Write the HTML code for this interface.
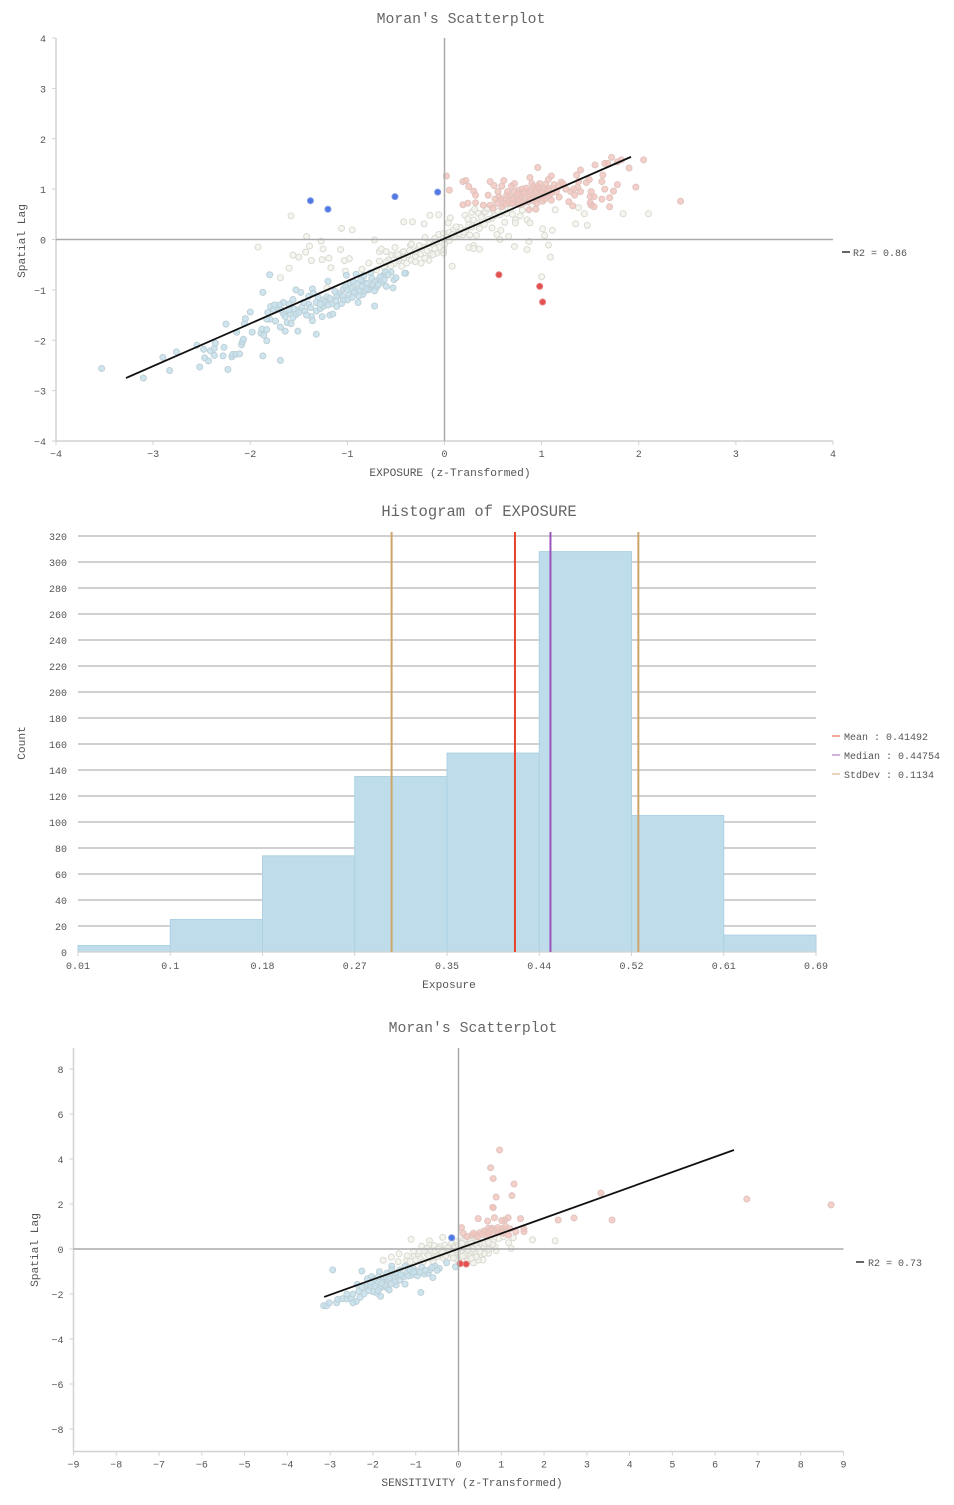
<!DOCTYPE html>
<html lang="en">
<head>
<meta charset="utf-8">
<title>Moran's Scatterplots and Histogram</title>
<style>
html,body{margin:0;padding:0;background:#fff;width:954px;height:1505px;overflow:hidden}
svg{display:block;filter:blur(0.3px)}
text{font-family:"Liberation Mono","Noto Serif CJK SC",monospace;fill:#555}
.title{font-size:14.8px;text-anchor:middle;fill:#666}
.axis-title{font-size:11.2px;text-anchor:middle;fill:#555}
.tick{font-size:10px;fill:#555}
.legend{font-size:10px;fill:#555}
</style>
</head>
<body>
<svg id="root" xmlns="http://www.w3.org/2000/svg" width="954" height="1505" viewBox="0 0 954 1505">
  <g id="chart1">
    <text class="title" x="461" y="23">Moran's Scatterplot</text>
    <text class="axis-title" x="450" y="476">EXPOSURE (z-Transformed)</text>
    <text class="axis-title" transform="translate(25,241) rotate(-90)">Spatial Lag</text>
    <line x1="842" x2="850" y1="252" y2="252" stroke="#333" stroke-width="1.5"/>
    <text class="legend" x="853" y="256">R2 = 0.86</text>
  </g>
  <g id="chart2">
    <text class="title" style="font-size:15.5px" x="479" y="516">Histogram of EXPOSURE</text>
    <text class="axis-title" x="449" y="988">Exposure</text>
    <text class="axis-title" transform="translate(25,743) rotate(-90)">Count</text>
    <line x1="832" x2="840" y1="736" y2="736" stroke="#ee8a78" stroke-width="1.5"/>
    <text class="legend" x="844" y="740">Mean : 0.41492</text>
    <line x1="832" x2="840" y1="755" y2="755" stroke="#c29ad2" stroke-width="1.5"/>
    <text class="legend" x="844" y="759">Median : 0.44754</text>
    <line x1="832" x2="840" y1="774" y2="774" stroke="#e2c6a2" stroke-width="1.5"/>
    <text class="legend" x="844" y="778">StdDev : 0.1134</text>
  </g>
  <g id="chart3">
    <text class="title" x="473" y="1032">Moran's Scatterplot</text>
    <text class="axis-title" x="472" y="1486">SENSITIVITY (z-Transformed)</text>
    <text class="axis-title" transform="translate(38,1250) rotate(-90)">Spatial Lag</text>
    <line x1="856" x2="864" y1="1262" y2="1262" stroke="#333" stroke-width="1.5"/>
    <text class="legend" x="868" y="1266">R2 = 0.73</text>
  </g>
</svg>
<script>
/* ---------- Chart 1: EXPOSURE Moran's scatterplot ---------- */
var c1Ticks = [-4,-3,-2,-1,0,1,2,3,4];
var c1NotSig = [[-1.58,0.47],[-1.92,-0.15],[-1.42,0.06],[-1.27,-0.03],[-1.39,-0.13],[-1.25,-0.19],[-1.43,-0.25],[-1.50,-0.35],[-1.56,-0.31],[-1.37,-0.42],[-1.26,-0.40],[-1.19,-0.37],[-1.17,-0.56],[-1.60,-0.57],[-1.69,-0.76],[-1.06,0.22],[-0.95,0.19],[-0.72,-0.01],[-1.07,-0.20],[-1.03,-0.42],[-0.98,-0.38],[-1.02,-0.63],[-0.85,-0.59],[-0.78,-0.47],[-0.67,-0.24],[-0.65,-0.19],[-0.60,-0.24],[-0.51,-0.16],[-0.67,-0.43],[-0.58,-0.41],[-0.54,-0.31],[-0.50,-0.31],[-0.42,0.35],[-0.43,-0.25],[-0.47,-0.42],[-0.35,-0.11],[-1.21,-0.96],[-0.33,0.35],[-0.21,0.31],[-0.15,0.48],[-0.06,0.49],[0.06,0.43],[0.04,0.33],[0.21,0.48],[0.28,0.54],[0.31,0.60],[0.40,0.52],[0.42,0.55],[0.30,0.39],[0.25,0.29],[0.16,0.24],[0.09,0.19],[0.05,0.14],[-0.06,0.10],[-0.20,0.04],[-0.34,-0.09],[-0.01,0.12],[-0.01,0.02],[0.13,0.06],[0.19,0.09],[0.26,0.09],[0.33,0.08],[0.36,0.22],[0.41,0.30],[0.49,0.42],[0.57,0.49],[0.62,0.34],[0.73,0.39],[0.73,0.33],[0.85,0.39],[0.88,0.33],[0.78,0.47],[0.90,0.66],[1.14,0.59],[1.38,0.63],[1.44,0.51],[1.35,0.31],[1.47,0.28],[1.84,0.51],[2.10,0.51],[1.01,0.21],[1.11,0.18],[1.03,0.08],[0.87,-0.04],[1.07,-0.11],[0.72,-0.14],[0.85,-0.20],[1.09,-0.35],[1.00,-0.74],[0.66,0.06],[0.57,0.00],[0.49,0.23],[0.58,0.18],[0.54,0.10],[0.25,-0.16],[0.30,-0.12],[0.30,-0.18],[0.36,-0.19],[0.08,-0.53],[-0.01,-0.27],[-0.01,-0.20],[-0.08,-0.27],[-0.15,-0.27],[-0.25,-0.29],[-0.34,-0.41],[-0.24,-0.47],[-0.16,-0.41],[-0.20,-0.37],[-0.30,-0.44],[-0.42,-0.24],[-0.39,-0.47],[-0.44,-0.53],[0.10,0.05],[0.15,0.12],[0.22,0.18],[0.28,0.25],[0.34,0.32],[0.45,0.40],[0.52,0.48],[0.60,0.58],[-0.28,-0.20],[-0.22,-0.15],[-0.12,-0.10],[-0.08,-0.05],[-0.18,-0.22],[-0.30,-0.33],[-0.12,-0.30],[-0.05,-0.15],[0.05,-0.02],[0.68,0.60],[0.50,0.58],[-0.52,-0.48],[-0.46,-0.38],[-0.38,-0.30],[-0.60,-0.45],[0.35,0.52],[0.44,0.62],[0.38,0.45],[0.24,0.41],[0.55,0.55],[0.64,0.52],[0.70,0.50],[0.80,0.58],[0.20,0.15],[0.02,0.05],[-0.10,0.02],[-0.16,-0.08],[-0.26,-0.12],[-0.36,-0.22],[-0.30,-0.24],[-0.42,-0.36],[-0.48,-0.30],[-0.55,-0.52],[-0.62,-0.56],[-0.70,-0.60],[-0.10,-0.18],[0.00,-0.10],[0.12,0.25],[0.08,0.10]];
var c1LowLow = [[-3.53,-2.56],[-3.10,-2.75],[-2.90,-2.34],[-2.83,-2.60],[-2.76,-2.23],[-2.55,-2.10],[-2.52,-2.53],[-2.48,-2.18],[-2.47,-2.35],[-2.43,-2.41],[-2.41,-2.21],[-2.37,-2.16],[-2.36,-2.06],[-2.37,-2.30],[-2.28,-2.31],[-2.27,-2.14],[-2.23,-2.58],[-2.25,-1.68],[-2.19,-2.33],[-2.18,-2.28],[-2.15,-2.28],[-2.11,-2.27],[-2.14,-1.84],[-2.09,-2.09],[-2.08,-2.03],[-2.07,-1.98],[-2.06,-1.67],[-2.05,-1.57],[-2.00,-1.44],[-1.98,-1.84],[-1.89,-1.86],[-1.88,-1.78],[-1.83,-1.79],[-1.86,-1.90],[-1.83,-2.01],[-1.87,-2.31],[-1.69,-2.40],[-1.69,-1.74],[-1.64,-1.82],[-1.51,-1.82],[-1.32,-1.88],[-1.74,-1.62],[-1.80,-1.58],[-1.83,-1.58],[-1.62,-1.65],[-1.58,-1.67],[-1.87,-1.05],[-1.80,-0.70],[-1.79,-1.33],[-1.76,-1.39],[-1.72,-1.35],[-1.66,-1.25],[-1.66,-1.47],[-1.60,-1.28],[-1.56,-1.19],[-1.53,-1.00],[-1.48,-1.05],[-1.64,-1.53],[-1.59,-1.47],[-1.53,-1.49],[-1.51,-1.40],[-1.56,-1.55],[-1.40,-1.28],[-1.37,-1.53],[-1.36,-1.61],[-1.26,-1.53],[-1.32,-1.42],[-1.28,-1.37],[-1.32,-1.25],[-1.18,-1.50],[-1.15,-1.48],[-1.11,-1.33],[-1.06,-1.27],[-1.00,-1.20],[-0.89,-1.25],[-0.72,-1.32],[-1.36,-0.98],[-1.35,-1.07],[-1.20,-0.83],[-1.21,-1.14],[-1.16,-1.27],[-1.09,-1.11],[-1.04,-0.98],[-1.01,-0.71],[-0.97,-0.87],[-0.92,-1.00],[-0.91,-0.69],[-0.84,-1.09],[-0.84,-0.84],[-0.77,-0.94],[-0.68,-0.80],[-0.63,-0.71],[-0.60,-0.93],[-0.53,-0.96],[-0.52,-0.80],[-0.50,-0.76],[-0.40,-0.67],[-0.55,-0.65],[-0.41,-0.67],[-1.08,-1.07],[-1.02,-0.94],[-0.96,-0.97],[-0.90,-0.87],[-0.85,-0.94],[-0.80,-0.87],[-0.75,-0.77],[-0.72,-0.84],[-0.66,-0.74],[-0.61,-0.64],[-0.94,-0.84],[-1.04,-1.19],[-1.11,-1.13],[-1.18,-1.17],[-1.25,-1.20],[-1.40,-1.13],[-1.13,-1.03],[-1.00,-1.00],[-0.98,-1.10],[-0.93,-1.05],[-0.88,-1.02],[-0.82,-1.02],[-0.78,-1.00],[-0.74,-0.90],[-0.70,-0.95],[-0.65,-0.85],[-0.62,-0.80],[-0.58,-0.70],[-0.86,-0.80],[-0.83,-0.72],[-0.76,-0.66],[-1.25,-1.33],[-1.30,-1.15],[-1.23,-1.25],[-1.47,-1.35],[-1.44,-1.42],[-1.55,-1.38],[-1.50,-1.45],[-1.70,-1.30],[-1.75,-1.30],[-1.05,-1.12],[-0.95,-1.15],[-0.88,-1.12],[-0.80,-0.98],[-0.72,-1.02],[-0.68,-0.90],[-1.12,-1.22],[-1.20,-1.30],[-1.28,-1.28],[-1.38,-1.35],[-1.45,-1.25],[-1.42,-1.50],[-1.60,-1.40],[-1.68,-1.40],[-1.82,-1.45]];
var c1HighHigh = [[0.02,1.26],[0.05,0.98],[0.19,1.15],[0.22,1.17],[0.25,1.05],[0.30,0.96],[0.32,0.88],[0.19,0.69],[0.24,0.72],[0.32,0.73],[0.40,0.68],[0.45,0.88],[0.47,1.15],[0.51,1.07],[0.59,1.06],[0.61,1.17],[0.55,0.95],[0.56,0.85],[0.47,0.68],[0.50,0.62],[0.54,0.72],[0.59,0.65],[0.69,1.06],[0.72,1.11],[0.67,0.86],[0.68,0.72],[0.73,0.84],[0.76,0.98],[0.79,0.92],[0.83,0.82],[0.74,0.72],[0.79,0.78],[0.88,1.23],[0.96,1.43],[0.90,1.11],[1.07,1.19],[1.10,1.26],[0.88,0.98],[0.93,1.00],[0.98,1.11],[1.02,1.02],[1.07,1.02],[1.13,1.09],[1.20,1.14],[1.22,1.11],[0.87,0.88],[0.92,0.85],[0.97,0.92],[1.02,0.88],[0.87,0.59],[0.94,0.60],[1.01,0.76],[1.10,0.78],[1.18,0.84],[1.05,0.92],[0.92,0.77],[0.81,0.72],[1.28,0.75],[1.32,0.67],[1.30,0.95],[1.34,0.88],[1.40,0.95],[1.37,1.04],[1.36,1.28],[1.40,1.38],[1.38,1.15],[1.46,1.13],[1.49,1.19],[1.55,1.48],[1.65,1.51],[1.68,1.51],[1.72,1.63],[1.78,1.54],[1.82,1.58],[1.63,1.28],[1.62,1.15],[1.65,1.00],[1.74,0.96],[1.78,1.09],[1.90,1.42],[2.05,1.58],[1.97,1.04],[2.43,0.76],[1.51,0.95],[1.50,0.85],[1.54,0.85],[1.50,0.73],[1.51,0.68],[1.54,0.65],[1.62,0.80],[1.70,0.83],[1.70,0.65],[0.62,0.78],[0.64,0.88],[0.70,0.80],[0.72,0.95],[0.78,0.85],[0.80,1.00],[0.85,0.95],[0.86,0.75],[0.90,0.88],[0.92,1.05],[0.95,0.80],[0.98,1.00],[1.00,0.85],[1.04,1.10],[1.08,0.88],[1.12,1.00],[1.15,0.95],[1.17,1.05],[1.25,1.00],[1.33,1.00],[0.76,0.78],[0.66,0.75],[0.58,0.80],[0.52,0.80],[0.65,0.95],[0.70,0.72],[0.75,0.90],[0.82,0.92],[0.84,1.02],[0.88,0.80],[0.94,0.95],[0.96,1.05],[1.00,0.95],[1.03,0.80],[1.06,0.98],[1.10,0.92],[0.60,0.72],[0.63,0.70],[0.95,0.72],[0.77,0.70]];
var c1LowHigh = [[-1.38,0.77],[-1.20,0.60],[-0.51,0.85],[-0.07,0.94]];
var c1HighLow = [[0.56,-0.70],[0.98,-0.93],[1.01,-1.24]];
var c1Fit = [[-3.28,-2.75],[1.92,1.64]];

/* ---------- Chart 2: EXPOSURE histogram ---------- */
var binEdges = ["0.01","0.1","0.18","0.27","0.35","0.44","0.52","0.61","0.69"];
var binCounts = [5,25,74,135,153,308,105,13];
var countTicks = [0,20,40,60,80,100,120,140,160,180,200,220,240,260,280,300,320];
var meanValue = 0.41492;
var medianValue = 0.44754;
var stdDevValue = 0.1134;

/* ---------- Chart 3: SENSITIVITY Moran's scatterplot ---------- */
var c3XTicks = [-9,-8,-7,-6,-5,-4,-3,-2,-1,0,1,2,3,4,5,6,7,8,9];
var c3YTicks = [-8,-6,-4,-2,0,2,4,6,8];
var c3NotSig = [[-1.11,0.43],[-0.37,0.52],[-0.86,0.12],[-0.68,0.36],[-0.67,0.18],[-0.57,0.15],[-0.43,0.10],[-0.32,0.18],[-0.16,0.25],[-0.04,0.33],[0.11,0.40],[0.17,0.44],[0.27,0.33],[0.42,0.40],[0.54,0.25],[0.66,0.40],[0.81,0.33],[0.95,0.47],[1.17,0.28],[1.28,0.50],[1.73,0.41],[2.26,0.36],[1.23,0.03],[0.88,-0.07],[0.70,-0.19],[0.57,-0.49],[0.46,-0.49],[0.35,-0.61],[0.19,-0.41],[0.04,-0.34],[-0.12,-0.27],[-0.28,-0.19],[-0.43,-0.27],[-0.59,-0.22],[-0.74,-0.19],[-0.90,-0.41],[-1.03,-0.31],[-1.21,-0.49],[-1.39,-0.21],[-1.57,-0.36],[-1.76,-0.50],[-1.41,-0.56],[-1.13,-0.56],[-1.02,-0.93],[-0.82,-0.56],[-0.59,-0.56],[-0.35,-0.41],[-0.20,-0.04],[-0.04,-0.04],[0.11,-0.12],[0.27,-0.27],[0.39,-0.12],[0.54,-0.04],[0.74,0.18],[0.85,0.10],[1.05,0.55],[0.35,0.10],[0.19,0.10],[-0.74,0.03],[-0.51,-0.04],[-0.94,-0.22],[-0.25,0.05],[-0.10,0.12],[0.05,0.05],[0.25,0.20],[0.40,0.15],[0.60,0.10],[0.70,-0.02],[0.30,-0.10],[0.15,-0.25],[-0.05,-0.45],[-0.25,-0.42],[-0.50,-0.35],[-0.65,-0.40],[-0.35,-0.08],[0.50,-0.25],[0.60,-0.20],[0.20,-0.55],[0.45,0.35],[0.80,0.20],[-0.80,-0.08],[-0.70,-0.30],[-0.55,-0.10],[-0.46,0.00],[-0.38,-0.16],[-0.30,-0.30],[-0.22,-0.12],[-0.15,-0.20],[-0.08,0.05],[0.00,0.15],[0.08,0.25],[0.15,0.05],[0.22,-0.02],[0.30,0.25],[0.34,0.00],[0.45,0.02],[0.50,-0.12],[0.62,0.25],[0.70,0.30],[0.42,-0.35],[0.30,-0.42],[0.10,-0.32],[-0.12,-0.40],[-1.00,-0.48],[-0.92,-0.10],[-1.20,-0.30],[-1.05,-0.10]];
var c3LowLow = [[-2.94,-0.93],[-2.26,-0.98],[-0.88,-1.93],[-0.60,-1.27],[-0.07,-0.79],[-3.15,-2.52],[-3.08,-2.52],[-3.02,-2.39],[-2.85,-2.39],[-2.82,-2.24],[-2.71,-2.21],[-2.61,-2.22],[-2.61,-2.01],[-2.51,-2.21],[-2.39,-2.33],[-2.47,-2.01],[-2.47,-2.39],[-2.33,-1.87],[-2.21,-1.99],[-2.37,-1.57],[-2.15,-1.67],[-2.07,-1.67],[-1.99,-1.90],[-1.90,-1.97],[-1.82,-2.10],[-2.13,-1.33],[-2.03,-1.23],[-1.85,-1.01],[-1.87,-1.23],[-1.76,-1.30],[-1.76,-1.67],[-1.66,-1.75],[-1.62,-1.82],[-1.56,-0.76],[-1.56,-0.93],[-1.46,-1.60],[-1.25,-1.56],[-1.41,-1.23],[-1.37,-0.93],[-1.25,-0.76],[-1.21,-1.08],[-1.10,-1.16],[-0.96,-1.19],[-0.80,-1.11],[-0.71,-1.08],[-0.67,-0.93],[-0.55,-0.76],[-0.45,-0.86],[-0.28,-0.61],[-0.86,-0.81],[-1.06,-0.86],[-1.17,-0.86],[-1.56,-1.16],[-1.68,-1.08],[-1.52,-1.30],[-1.37,-1.38],[-1.76,-1.45],[-1.64,-1.45],[-1.91,-1.53],[-1.99,-1.38],[-1.84,-1.75],[-1.72,-1.60],[-1.48,-1.08],[-1.29,-1.23],[-1.13,-0.93],[-0.98,-1.01],[-2.25,-1.70],[-2.05,-1.50],[-1.95,-1.65],[-1.80,-1.52],[-1.70,-1.25],[-1.62,-1.30],[-1.50,-1.45],[-1.42,-1.05],[-1.35,-1.15],[-1.18,-1.20],[-1.05,-1.02],[-0.90,-1.02],[-0.78,-0.95],[-0.62,-0.82],[-0.50,-0.95],[-2.30,-2.15],[-2.10,-1.85],[-1.88,-1.85],[-1.58,-1.55]];
var c3HighHigh = [[0.96,4.40],[0.75,3.61],[0.81,3.13],[1.30,2.89],[1.25,2.37],[0.88,2.31],[0.81,1.84],[1.16,1.39],[1.45,1.35],[0.84,1.39],[0.68,1.24],[0.46,1.35],[1.08,1.29],[1.01,1.26],[1.53,0.89],[1.53,0.77],[2.33,1.29],[0.07,0.95],[0.11,0.70],[0.31,0.62],[0.39,0.62],[0.50,0.73],[0.62,0.73],[0.70,0.92],[0.78,0.92],[0.85,0.84],[0.97,0.84],[1.04,0.92],[1.34,0.77],[1.17,0.62],[2.70,1.38],[3.33,2.49],[3.59,1.29],[6.74,2.22],[8.71,1.96],[0.60,0.80],[0.72,0.78],[0.90,0.72],[1.05,0.70],[0.20,0.55],[0.45,0.55],[0.55,0.65],[0.80,0.65],[1.10,1.00],[1.20,0.90],[0.80,1.85],[0.35,0.70],[0.65,0.62],[0.75,0.85],[0.92,0.95],[1.00,0.75],[0.70,0.70]];
var c3LowHigh = [[-0.16,0.50]];
var c3HighLow = [[0.04,-0.65],[0.18,-0.67]];
var c3Fit = [[-3.14,-2.13],[6.44,4.40]];

var SVG_NS = 'http://www.w3.org/2000/svg';
var AXIS = '#d2d2d2';

function make(parent, tag, attrs) {
  var el = document.createElementNS(SVG_NS, tag);
  for (var k in attrs) el.setAttribute(k, attrs[k]);
  parent.appendChild(el);
  return el;
}
function label(parent, x, y, str, anchor, name) {
  var el = make(parent, 'text', {x: x, y: y, 'text-anchor': anchor, 'class': 'tick'});
  el.textContent = str;
  
  
  return el;
}
function linear(d0, d1, r0, r1) {
  return function (v) { return r0 + (v - d0) * (r1 - r0) / (d1 - d0); };
}
function fmt(v) { return v < 0 ? '\u2212' + Math.abs(v) : String(v); }

function drawPoints(parent, pts, sx, sy, fill, stroke, opacity, name) {
  pts.forEach(function (p) {
    var c = make(parent, 'circle', {cx: sx(p[0]), cy: sy(p[1]), r: 3, fill: fill, stroke: stroke, 'stroke-width': 1, 'fill-opacity': opacity});
    
    
  });
}

function drawScatter(parent, o) {
  var sx = o.sx, sy = o.sy;
  var axes = make(parent, 'g', {});
  
  
  var yAxis = make(axes, 'line', {x1: o.left, x2: o.left, y1: o.top, y2: o.bottom, stroke: AXIS, 'stroke-width': 1.5});
  
  
  var xAxis = make(axes, 'line', {x1: o.left, x2: o.right, y1: o.bottom, y2: o.bottom, stroke: AXIS, 'stroke-width': 1.5});
  
  
  o.xTicks.forEach(function (t) {
    var m = make(axes, 'line', {x1: sx(t), x2: sx(t), y1: o.bottom, y2: o.bottom + 4, stroke: AXIS, 'stroke-width': 1});
    
    
    label(axes, sx(t), o.bottom + 16, fmt(t), 'middle', 'x-tick-label');
  });
  o.yTicks.forEach(function (t) {
    var m = make(axes, 'line', {x1: o.left - 4, x2: o.left, y1: sy(t), y2: sy(t), stroke: AXIS, 'stroke-width': 1});
    
    
    label(axes, o.left - 10, sy(t) + 4, fmt(t), 'end', 'y-tick-label');
  });
  drawPoints(parent, o.notSig, sx, sy, '#f4f4ee', '#dadad2', 0.8, 'point-not-significant');
  drawPoints(parent, o.lowLow, sx, sy, '#c6e1ed', '#bdd0d6', 0.85, 'point-low-low');
  drawPoints(parent, o.highHigh, sx, sy, '#f3c3bd', '#e0c4be', 0.8, 'point-high-high');
  drawPoints(parent, o.lowHigh, sx, sy, '#4f78e2', '#7f9ae6', 1, 'point-low-high');
  drawPoints(parent, o.highLow, sx, sy, '#e25050', '#e87e7e', 1, 'point-high-low');
  var vz = make(parent, 'line', {x1: sx(0), x2: sx(0), y1: o.top, y2: o.bottom, stroke: '#aaa', 'stroke-width': 1.5});
  
  
  var hz = make(parent, 'line', {x1: o.left, x2: o.right, y1: sy(0), y2: sy(0), stroke: '#aaa', 'stroke-width': 1.5});
  
  
  var fit = make(parent, 'line', {x1: sx(o.fit[0][0]), y1: sy(o.fit[0][1]), x2: sx(o.fit[1][0]), y2: sy(o.fit[1][1]), stroke: '#111', 'stroke-width': 1.8});
  
  
}

/* Chart 1 */
drawScatter(document.getElementById('chart1'), {
  sx: linear(-4, 4, 56, 833), sy: linear(-4, 4, 441, 38),
  left: 56, right: 833, top: 38, bottom: 441,
  xTicks: c1Ticks, yTicks: c1Ticks,
  notSig: c1NotSig, lowLow: c1LowLow, highHigh: c1HighHigh, lowHigh: c1LowHigh, highLow: c1HighLow, fit: c1Fit
});

/* Chart 2 */
(function () {
  var g = document.getElementById('chart2');
  var left = 78, right = 816, bottom = 952, top = 532;
  var yScale = linear(0, 320, 952, 536);
  var xValue = linear(0.0133, 0.6916, left, right);
  var band = (right - left) / binCounts.length;

  countTicks.forEach(function (t) {
    if (t > 0) {
      var gl = make(g, 'line', {x1: left, x2: right, y1: yScale(t), y2: yScale(t), stroke: '#c0c0c0', 'stroke-width': 1.4});
      
      
    }
    label(g, 67, yScale(t) + 4, String(t), 'end', 'y-tick-label');
  });
  binCounts.forEach(function (c, i) {
    var b = make(g, 'rect', {x: left + i * band, y: yScale(c), width: band, height: bottom - yScale(c), fill: '#bfdcea', stroke: '#aed2e4', 'stroke-width': 1});
    
    
  });
  var ax = make(g, 'line', {x1: left, x2: right, y1: bottom, y2: bottom, stroke: AXIS, 'stroke-width': 1.2});
  
  
  binEdges.forEach(function (t, i) {
    var x = left + i * band;
    var m = make(g, 'line', {x1: x, x2: x, y1: bottom, y2: bottom + 4, stroke: AXIS, 'stroke-width': 1});
    
    
    label(g, x, bottom + 17, t, 'middle', 'x-tick-label');
  });
  var s1 = make(g, 'line', {x1: xValue(meanValue - stdDevValue), x2: xValue(meanValue - stdDevValue), y1: top, y2: bottom, stroke: '#cda56b', 'stroke-width': 2});
  
  
  var mean = make(g, 'line', {x1: xValue(meanValue), x2: xValue(meanValue), y1: top, y2: bottom, stroke: '#e8432a', 'stroke-width': 2});
  
  
  var med = make(g, 'line', {x1: xValue(medianValue), x2: xValue(medianValue), y1: top, y2: bottom, stroke: '#9a55bb', 'stroke-width': 2});
  
  
  var s2 = make(g, 'line', {x1: xValue(meanValue + stdDevValue), x2: xValue(meanValue + stdDevValue), y1: top, y2: bottom, stroke: '#cda56b', 'stroke-width': 2});
  
  
})();

/* Chart 3 */
drawScatter(document.getElementById('chart3'), {
  sx: linear(-9, 9, 73.5, 843.5), sy: linear(-8, 8, 1429, 1069),
  left: 73.5, right: 843.5, top: 1048, bottom: 1451.5,
  xTicks: c3XTicks, yTicks: c3YTicks,
  notSig: c3NotSig, lowLow: c3LowLow, highHigh: c3HighHigh, lowHigh: c3LowHigh, highLow: c3HighLow, fit: c3Fit
});
</script>
</body>
</html>
